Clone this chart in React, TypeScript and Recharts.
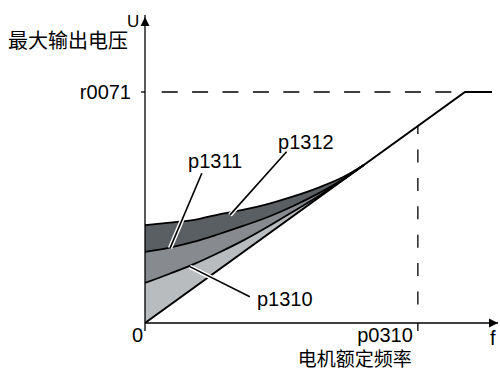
import { ComposedChart, Area, Line, XAxis, YAxis, ReferenceLine, ReferenceDot } from "recharts"

// frequency points of the boost region (f axis, 0..100)
const fPoints = [0, 7, 14, 21, 28, 35, 42, 49, 56, 62]
// linear U/f characteristic in that region
const uBase = [0, 5.79, 11.58, 17.38, 23.17, 28.96, 34.75, 40.54, 46.33, 51.3]
// boost curves
const uP1310 = [13.0, 16.0, 19.2, 22.9, 26.9, 31.4, 36.2, 41.1, 46.4, 51.3]
const uP1311 = [23.1, 24.5, 26.4, 28.9, 31.6, 34.5, 38.0, 42.0, 46.6, 51.3]
const uP1312 = [31.8, 32.6, 33.5, 35.3, 36.8, 38.7, 41.1, 43.9, 47.3, 51.3]

// full characteristic: linear up to the max voltage, then flat
const fLine = [0, 90.65, 98.3]
const uLine = [0, 75, 75]

const fTicks = [0, 77.3]
const fTickLabels = ["0", "p0310"]
const uTicks = [75]
const uTickLabels = ["r0071"]
const uAtRated = 64.0
const r0071Start = 4.73

const FONT = "'Liberation Sans', Arial, sans-serif"
const CJK = "'Noto Sans CJK SC', sans-serif"

const curveData = fPoints.map((f, i) => ({
  f,
  dark: [uP1311[i], uP1312[i]],
  mid: [uP1310[i], uP1311[i]],
  light: [uBase[i], uP1310[i]],
  p1310: uP1310[i],
  p1311: uP1311[i],
  p1312: uP1312[i],
}))

const lineData = fLine.map((f, i) => ({ f, u: uLine[i] }))

// leader lines: [label side, curve side]
const leaders = [
  { from: { x: 40.1, y: 55.6 }, to: { x: 24.1, y: 35.1 } },
  { from: { x: 16.1, y: 48.6 }, to: { x: 7.1, y: 24.3 } },
  { from: { x: 29.7, y: 8.5 }, to: { x: 12.7, y: 18.3 } },
]
const curveLabels = [
  { text: "p1312", x: 37.7, y: 56.5 },
  { text: "p1311", x: 12.2, y: 50.3 },
  { text: "p1310", x: 31.7, y: 5.5 },
]

function XTick(props: any) {
  const { x, y, index } = props
  if (index === 0) {
    return (
      <text x={x - 2} y={y + 11} textAnchor="end" fontSize={20} fontFamily={FONT} fill="#000">
        {fTickLabels[0]}
      </text>
    )
  }
  return (
    <g>
      <text x={x - 5} y={y + 11} textAnchor="end" fontSize={20} fontFamily={FONT} fill="#000">
        {fTickLabels[index]}
      </text>
      <text x={x - 6} y={y + 35} textAnchor="end" fontSize={19} fontFamily={CJK} fill="#000">
        电机额定频率
      </text>
    </g>
  )
}

function YTick(props: any) {
  const { x, y, index } = props
  return (
    <text x={x - 10} y={y + 7} textAnchor="end" fontSize={20} fontFamily={FONT} fill="#000">
      {uTickLabels[index]}
    </text>
  )
}

export default function App() {
  return (
    <div style={{ position: "absolute", left: 0, top: 0, background: "#fff" }}>
      <ComposedChart
        width={500}
        height={372}
        data={curveData}
        margin={{ top: 15, right: 2, bottom: 48, left: 144 }}
      >
        <XAxis
          type="number"
          dataKey="f"
          domain={[0, 100]}
          ticks={fTicks}
          height={1}
          tickSize={8}
          tickMargin={0}
          axisLine={{ stroke: "#000", strokeWidth: 1.3 }}
          tickLine={{ stroke: "#000", strokeWidth: 1.3 }}
          tick={<XTick />}
          interval={0}
        />
        <YAxis
          type="number"
          domain={[0, 100]}
          ticks={uTicks}
          width={1}
          tickSize={4}
          tickMargin={0}
          axisLine={{ stroke: "#000", strokeWidth: 1.3 }}
          tickLine={{ stroke: "#000", strokeWidth: 1.3 }}
          tick={<YTick />}
          interval={0}
        />
        <Area dataKey="dark" type="monotone" fill="#5a5f63" fillOpacity={1} stroke="none" isAnimationActive={false} />
        <Area dataKey="mid" type="monotone" fill="#878b8f" fillOpacity={1} stroke="none" isAnimationActive={false} />
        <Area dataKey="light" type="monotone" fill="#b9bcbf" fillOpacity={1} stroke="none" isAnimationActive={false} />
        <Line dataKey="p1312" type="monotone" stroke="#000" strokeWidth={1.8} dot={false} isAnimationActive={false} />
        <Line dataKey="p1311" type="monotone" stroke="#000" strokeWidth={1.8} dot={false} isAnimationActive={false} />
        <Line dataKey="p1310" type="monotone" stroke="#000" strokeWidth={1.8} dot={false} isAnimationActive={false} />
        <Line data={lineData} dataKey="u" type="linear" stroke="#000" strokeWidth={2} dot={false} isAnimationActive={false} />

        <ReferenceLine
          segment={[{ x: r0071Start, y: 75 }, { x: fLine[1], y: 75 }]}
          stroke="#000"
          strokeWidth={1.3}
          strokeDasharray="16 14.4"
        />
        <ReferenceLine
          segment={[{ x: fTicks[1], y: 1 }, { x: fTicks[1], y: uAtRated }]}
          stroke="#000"
          strokeWidth={1.3}
          strokeDasharray="13 15.4"
          strokeDashoffset={13}
        />

        {leaders.map((l, i) => (
          <ReferenceLine key={"w" + i} segment={[l.from, l.to]} stroke="#fff" strokeWidth={4.5} />
        ))}
        {leaders.map((l, i) => (
          <ReferenceLine key={"b" + i} segment={[l.from, l.to]} stroke="#000" strokeWidth={1.6} />
        ))}
        {curveLabels.map((c) => (
          <ReferenceDot
            key={c.text}
            x={c.x}
            y={c.y}
            r={0}
            shape={(p: any) => (
              <text x={p.cx} y={p.cy} fontSize={20} fontFamily={FONT} fill="#000">
                {c.text}
              </text>
            )}
          />
        ))}

        {/* axis arrows */}
        <ReferenceDot
          x={100}
          y={0}
          r={0}
          ifOverflow="visible"
          shape={(p: any) => (
            <polygon points={`${p.cx},${p.cy} ${p.cx - 9},${p.cy - 4.5} ${p.cx - 9},${p.cy + 4.5}`} fill="#000" />
          )}
        />
        <ReferenceDot
          x={0}
          y={99.35}
          r={0}
          ifOverflow="visible"
          shape={(p: any) => (
            <polygon points={`${p.cx},${p.cy} ${p.cx - 4.5},${p.cy + 9} ${p.cx + 4.5},${p.cy + 9}`} fill="#000" />
          )}
        />

        <text x={127} y={27} fontSize={17} fontFamily={FONT} fill="#000">U</text>
        <text x={8} y={48} fontSize={20} fontFamily={CJK} fill="#000">最大输出电压</text>
        <text x={490} y={345} fontSize={20} fontFamily={FONT} fill="#000">f</text>
      </ComposedChart>
    </div>
  )
}
